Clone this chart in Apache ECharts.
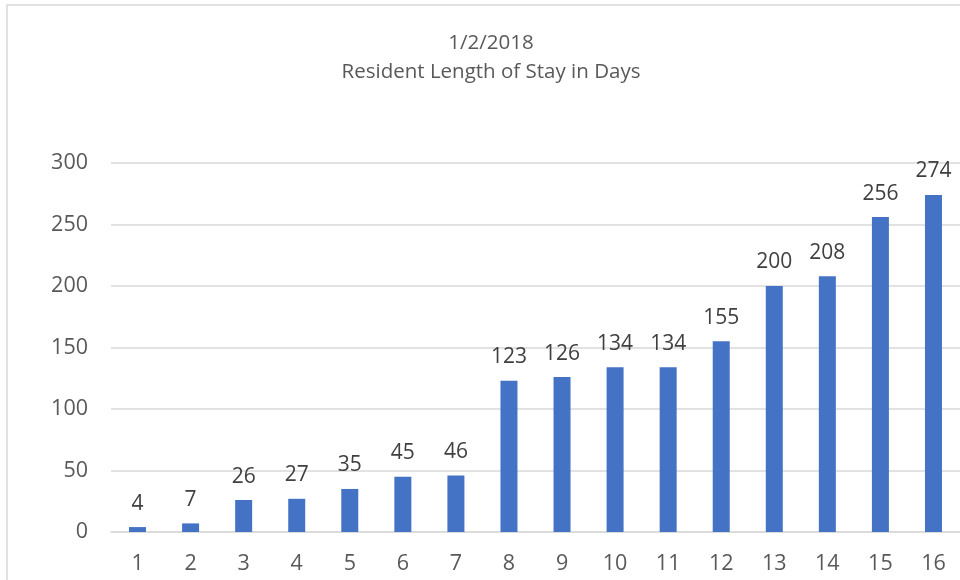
<!DOCTYPE html>
<html><head><meta charset="utf-8">
<script src="https://cdn.jsdelivr.net/npm/echarts@6/dist/echarts.min.js"></script>
<style>html,body{margin:0;padding:0;background:#fff}#c{width:960px;height:580px}</style>
</head><body><div id="c"></div>
<script>
const categories = ['1','2','3','4','5','6','7','8','9','10','11','12','13','14','15','16'];
const values = [4,7,26,27,35,45,46,123,126,134,134,155,200,208,256,274];
const titleLines = ['1/2/2018','Resident Length of Stay in Days'];
const font = '"Open Sans", sans-serif';
const chart = echarts.init(document.getElementById('c'));
chart.setOption({
  animation:false,
  backgroundColor:'#fff',
  graphic:[{type:'rect',shape:{x:7,y:5,width:1000,height:700},style:{fill:'none',stroke:'#d9d9d9',lineWidth:1.5},z:-1}],
  title:{text:titleLines.join('\n'),left:486,textAlign:'center',top:24,
    textStyle:{fontFamily:font,fontSize:20.5,fontWeight:'normal',color:'#595959',lineHeight:29}},
  grid:{left:111,right:-5,top:163,bottom:48,containLabel:false},
  xAxis:{type:'category',data:categories,
    axisLine:{lineStyle:{color:'#d9d9d9',width:1.5}},axisTick:{show:false},
    axisLabel:{fontFamily:font,fontSize:21.5,color:'#595959',margin:21}},
  yAxis:{type:'value',min:0,max:300,interval:50,
    axisLine:{show:false},axisTick:{show:false},
    splitLine:{lineStyle:{color:'#d9d9d9',width:1.5}},
    axisLabel:{fontFamily:font,fontSize:21.5,color:'#595959',margin:23}},
  series:[{type:'bar',data:values,barWidth:17,
    itemStyle:{color:'#4472C4'},
    label:{show:true,position:'top',distance:13,fontFamily:font,fontSize:21,color:'#404040'}}]
});
</script></body></html>
